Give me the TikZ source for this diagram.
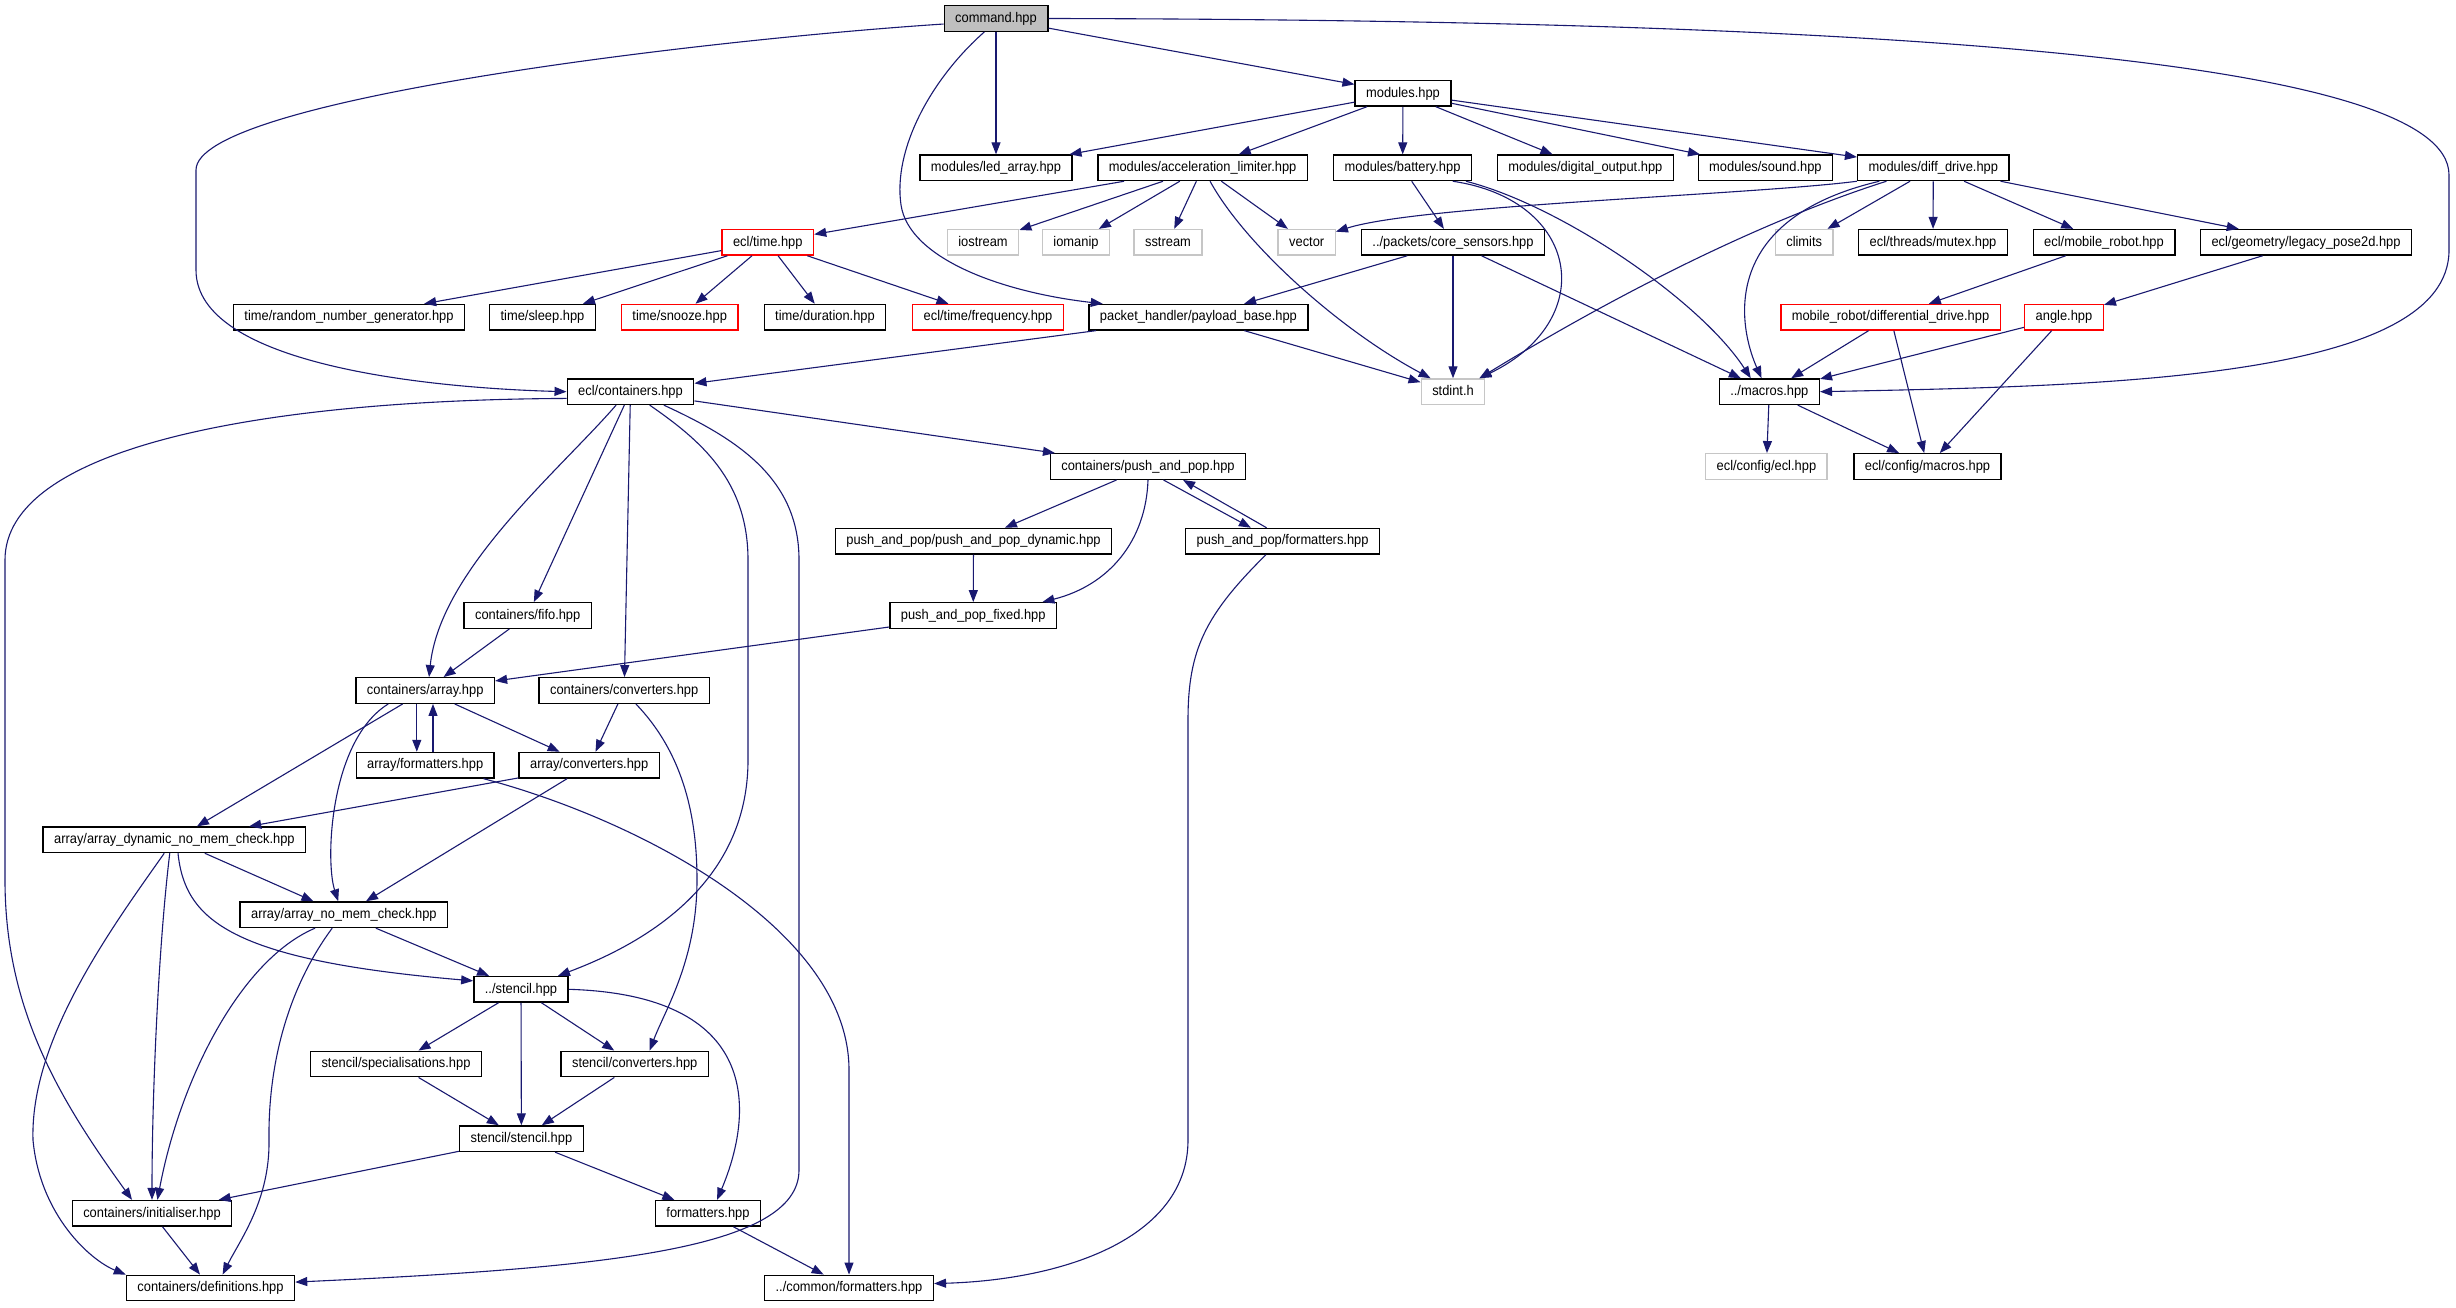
\documentclass[tikz,border=0pt]{standalone}
\usepackage{fontspec}
\setmainfont[FakeStretch=0.92]{Liberation Sans}
\usepackage{tikz}
\usetikzlibrary{arrows.meta}
\usepackage{xcolor}
\definecolor{midnight}{HTML}{191970}

\begin{document}
\begin{tikzpicture}[
    x=0.5pt, y=-0.5pt,
    font=\fontsize{7}{8.4}\selectfont,
    hdr/.style={draw=black, fill=white, line width=0.7pt, minimum height=12.75pt,
        inner xsep=5.5pt, inner ysep=0pt, text height=5.2pt, text depth=1.5pt},
    syshdr/.style={hdr, draw=gray!45},
    redhdr/.style={hdr, draw=red},
    roothdr/.style={hdr, fill=gray!50},
    dep/.style={draw=midnight, line width=0.55pt, -{Triangle[length=6pt,width=4.5pt]}}
]
    % 0. Sfondo e riquadro
    \path[fill=white] (0,0) rectangle (2456,1307);

    % =========================================================================
    % NODI (righe dall'alto)
    % =========================================================================

    % --- radice e moduli ---
    \node[roothdr] (cmd)    at (996, 18.5)    {command.hpp};
    \node[hdr]     (mods)   at (1403, 93.3)   {modules.hpp};

    \node[hdr]     (led)    at (996, 167.8)   {modules/led\_array.hpp};
    \node[hdr]     (accel)  at (1202.6, 167.8) {modules/acceleration\_limiter.hpp};
    \node[hdr]     (batt)   at (1402.6, 167.8) {modules/battery.hpp};
    \node[hdr]     (dout)   at (1585.4, 167.8) {modules/digital\_output.hpp};
    \node[hdr]     (sound)  at (1765.4, 167.8) {modules/sound.hpp};
    \node[hdr]     (ddrive) at (1933.3, 167.8) {modules/diff\_drive.hpp};

    \node[redhdr]  (etime)   at (767.8, 242.3)  {ecl/time.hpp};
    \node[syshdr]  (iostr)   at (983, 242.3)    {iostream};
    \node[syshdr]  (iomanip) at (1076, 242.3)   {iomanip};
    \node[syshdr]  (sstr)    at (1168, 242.3)   {sstream};
    \node[syshdr]  (vec)     at (1306.7, 242.3) {vector};
    \node[hdr]     (csens)   at (1453, 242.3)   {../packets/core\_sensors.hpp};
    \node[syshdr]  (climits) at (1804.2, 242.3) {climits};
    \node[hdr]     (mutex)   at (1933, 242.3)   {ecl/threads/mutex.hpp};
    \node[hdr]     (mrobot)  at (2104, 242.3)   {ecl/mobile\_robot.hpp};
    \node[hdr]     (pose)    at (2306, 242.3)   {ecl/geometry/legacy\_pose2d.hpp};

    \node[hdr]     (rng)     at (349, 317.2)    {time/random\_number\_generator.hpp};
    \node[hdr]     (sleep)   at (542.5, 317.2)  {time/sleep.hpp};
    \node[redhdr]  (snooze)  at (679.7, 317.2)  {time/snooze.hpp};
    \node[hdr]     (dur)     at (825, 317.2)    {time/duration.hpp};
    \node[redhdr]  (freq)    at (988, 317.2)    {ecl/time/frequency.hpp};
    \node[hdr]     (payload) at (1198.4, 317.2) {packet\_handler/payload\_base.hpp};
    \node[redhdr]  (diffdrv) at (1890.5, 317.2) {mobile\_robot/differential\_drive.hpp};
    \node[redhdr]  (angle)   at (2064, 317.2)   {angle.hpp};

    \node[hdr]     (cont)    at (630.5, 391.7)  {ecl/containers.hpp};
    \node[syshdr]  (stdint)  at (1453, 391.7)   {stdint.h};
    \node[hdr]     (macros)  at (1769.3, 391.7) {../macros.hpp};

    \node[syshdr]  (cfgecl)  at (1766.4, 466.5) {ecl/config/ecl.hpp};
    \node[hdr]     (cfgmac)  at (1927.5, 466.5) {ecl/config/macros.hpp};

    % --- contenitori ---
    \node[hdr]     (pp)      at (1148, 466.5)   {containers/push\_and\_pop.hpp};
    \node[hdr]     (ppdyn)   at (973.5, 541.2)  {push\_and\_pop/push\_and\_pop\_dynamic.hpp};
    \node[hdr]     (ppfmt)   at (1282.6, 541.2) {push\_and\_pop/formatters.hpp};
    \node[hdr]     (fifo)    at (527.7, 615.5)  {containers/fifo.hpp};
    \node[hdr]     (ppfix)   at (973.2, 615.5)  {push\_and\_pop\_fixed.hpp};
    \node[hdr]     (arr)     at (425.2, 690.5)  {containers/array.hpp};
    \node[hdr]     (cconv)   at (624.2, 690.5)  {containers/converters.hpp};
    \node[hdr]     (afmt)    at (425.2, 765.2)  {array/formatters.hpp};
    \node[hdr]     (aconv)   at (589.2, 765.2)  {array/converters.hpp};
    \node[hdr]     (adyn)    at (174.4, 839.8)  {array/array\_dynamic\_no\_mem\_check.hpp};
    \node[hdr]     (anc)     at (343.9, 914.7)  {array/array\_no\_mem\_check.hpp};
    \node[hdr]     (sten)    at (521, 989.3)    {../stencil.hpp};
    \node[hdr]     (sspec)   at (396, 1064)     {stencil/specialisations.hpp};
    \node[hdr]     (sconv)   at (634.7, 1064)   {stencil/converters.hpp};
    \node[hdr]     (sst)     at (521.4, 1138.7) {stencil/stencil.hpp};
    \node[hdr]     (init)    at (152, 1213.3)   {containers/initialiser.hpp};
    \node[hdr]     (fmt)     at (708, 1213.3)   {formatters.hpp};
    \node[hdr]     (defs)    at (210.5, 1288)   {containers/definitions.hpp};
    \node[hdr]     (cfmt)    at (849, 1288)     {../common/formatters.hpp};

    % =========================================================================
    % DIPENDENZE
    % =========================================================================

    % --- command.hpp ---
    \draw[dep] (cmd.186) .. controls (700,40) and (196,100) .. (196,170) -- (196,270)
        .. controls (196,365) and (430,388) .. (cont.west);
    \draw[dep] (cmd) -- (led);
    \draw[dep] (cmd.229) .. controls (930,80) and (893,150) .. (901,205)
        .. controls (909,258) and (1000,292) .. (payload.172);
    \draw[dep] (cmd) -- (mods);
    \draw[dep] (cmd.east) .. controls (1900,20) and (2449,60) .. (2449,175) -- (2449,250)
        .. controls (2449,380) and (2100,386) .. (macros.east);

    % --- modules.hpp ---
    \draw[dep] (mods) -- (led);
    \draw[dep] (mods) -- (accel);
    \draw[dep] (mods) -- (batt);
    \draw[dep] (mods) -- (dout);
    \draw[dep] (mods) -- (sound);
    \draw[dep] (mods) -- (ddrive);

    % --- acceleration_limiter, battery ---
    \draw[dep] (accel) -- (etime);
    \draw[dep] (accel) -- (iostr);
    \draw[dep] (accel) -- (iomanip);
    \draw[dep] (accel) -- (sstr);
    \draw[dep] (accel) -- (vec);
    \draw[dep] (accel.299) .. controls (1245,245) and (1340,330) .. (stdint.149);
    \draw[dep] (batt) -- (csens);
    \draw[dep] (batt.345) .. controls (1580,200) and (1600,320) .. (stdint.27);
    \draw[dep] (batt.348) .. controls (1560,205) and (1700,300) .. (macros.144);

    % --- diff_drive ---
    \draw[dep] (ddrive.south west) .. controls (1750,195) and (1420,205) .. (vec.20);
    \draw[dep] (ddrive) -- (climits);
    \draw[dep] (ddrive) -- (mutex);
    \draw[dep] (ddrive) -- (mrobot);
    \draw[dep] (ddrive) -- (pose);
    \draw[dep] (ddrive.196) .. controls (1780,215) and (1640,280) .. (stdint.27);
    \draw[dep] (ddrive.194) .. controls (1715,220) and (1740,330) .. (macros.120);

    % --- ecl/time.hpp ---
    \draw[dep] (etime) -- (rng);
    \draw[dep] (etime) -- (sleep);
    \draw[dep] (etime) -- (snooze);
    \draw[dep] (etime) -- (dur);
    \draw[dep] (etime) -- (freq);

    % --- core_sensors, payload_base ---
    \draw[dep] (csens) -- (payload);
    \draw[dep] (csens) -- (stdint);
    \draw[dep] (csens) -- (macros);
    \draw[dep] (payload) -- (cont);
    \draw[dep] (payload) -- (stdint);

    % --- ramo destro: robot, geometria, macros ---
    \draw[dep] (mrobot) -- (diffdrv);
    \draw[dep] (pose) -- (angle);
    \draw[dep] (diffdrv) -- (macros);
    \draw[dep] (diffdrv) -- (cfgmac);
    \draw[dep] (angle) -- (macros);
    \draw[dep] (angle) -- (cfgmac);
    \draw[dep] (macros) -- (cfgecl);
    \draw[dep] (macros) -- (cfgmac);

    % --- ecl/containers.hpp ---
    \draw[dep] (cont.186) .. controls (250,400) and (5,450) .. (5,560) -- (5,880)
        .. controls (5,1010) and (60,1100) .. (init.146);
    \draw[dep] (cont.223) .. controls (560,470) and (440,570) .. (arr.74);
    \draw[dep] (cont) -- (fifo);
    \draw[dep] (cont) -- (cconv);
    \draw[dep] (cont.325) .. controls (700,440) and (748,480) .. (748,560) -- (748,760)
        .. controls (748,860) and (680,930) .. (sten.20);
    \draw[dep] (cont.338) .. controls (740,440) and (799,480) .. (799,560) -- (799,1170)
        .. controls (799,1250) and (600,1268) .. (defs.4);
    \draw[dep] (cont) -- (pp);

    % --- push_and_pop ---
    \draw[dep] (pp) -- (ppdyn);
    \draw[dep] (pp.south) .. controls (1146,540) and (1110,585) .. (ppfix.11);
    \draw[dep] (pp.319) -- (ppfmt.157);
    \draw[dep] (ppfmt.140) -- (pp.339);
    \draw[dep] (ppfmt.219) .. controls (1205,615) and (1188,650) .. (1188,720) -- (1188,1140)
        .. controls (1188,1240) and (1060,1280) .. (cfmt.3);
    \draw[dep] (ppdyn) -- (ppfix);
    \draw[dep] (ppfix) -- (arr);
    \draw[dep] (fifo) -- (arr);

    % --- array ---
    \draw[dep] ([xshift=-4.2pt]arr.south) -- ([xshift=-4.2pt]afmt.north);
    \draw[dep] ([xshift=3.9pt]afmt.north) -- ([xshift=3.9pt]arr.south);
    \draw[dep] (arr) -- (aconv);
    \draw[dep] (arr) -- (adyn);
    \draw[dep] (arr.200) .. controls (330,740) and (325,860) .. (anc.113);
    \draw[dep] (afmt.347) .. controls (640,820) and (849,930) .. (849,1070) -- (cfmt);
    \draw[dep] (cconv) -- (aconv);
    \draw[dep] (cconv.311) .. controls (685,755) and (697,820) .. (697,880)
        .. controls (697,960) and (665,1010) .. (sconv.42);
    \draw[dep] (aconv) -- (adyn);
    \draw[dep] (aconv) -- (anc);
    \draw[dep] (adyn) -- (anc);
    \draw[dep] (adyn.285) .. controls (185,920) and (230,960) .. (sten.170);
    \draw[dep] (adyn.251) .. controls (158,950) and (152,1100) .. (init.north);
    \draw[dep] (adyn.233) .. controls (110,930) and (30,1040) .. (33,1140)
        .. controls (40,1215) and (90,1260) .. (defs.171);
    \draw[dep] (anc) -- (sten);
    \draw[dep] (anc.205) .. controls (240,960) and (180,1080) .. (init.68);
    \draw[dep] (anc.229) .. controls (290,985) and (268,1060) .. (269,1140)
        .. controls (270,1200) and (240,1240) .. (defs.48);

    % --- stencil ---
    \draw[dep] (sten) -- (sspec);
    \draw[dep] (sten) -- (sst);
    \draw[dep] (sten) -- (sconv);
    \draw[dep] (sten.east) .. controls (760,995) and (755,1110) .. (fmt.56);
    \draw[dep] (sspec) -- (sst);
    \draw[dep] (sconv) -- (sst);
    \draw[dep] (sst) -- (init);
    \draw[dep] (sst) -- (fmt);
    \draw[dep] (init) -- (defs);
    \draw[dep] (fmt) -- (cfmt);

\end{tikzpicture}
\end{document}
